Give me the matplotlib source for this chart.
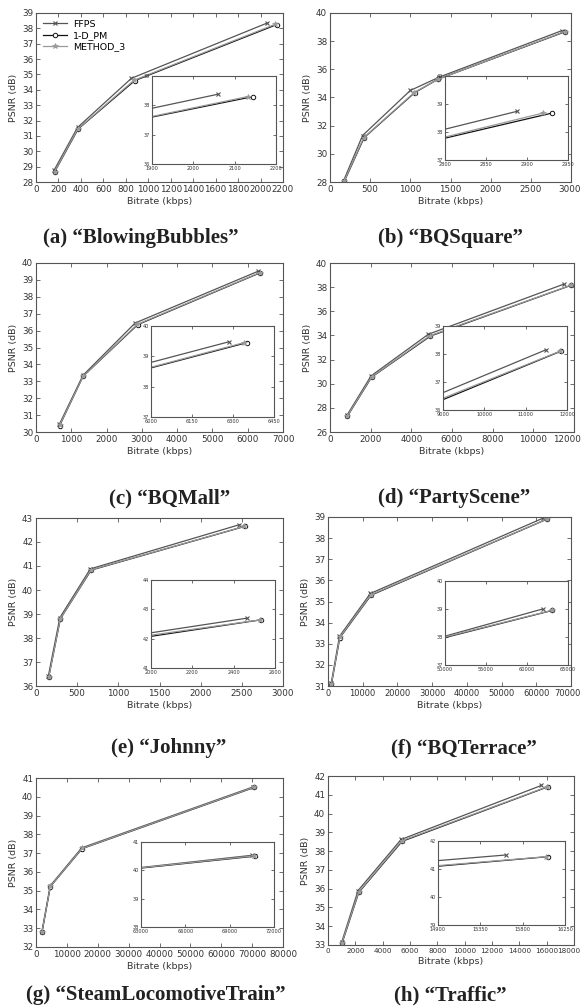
import matplotlib
matplotlib.use("Agg")
import matplotlib.pyplot as plt
from matplotlib.transforms import ScaledTranslation

W, H = 582, 1007

series_names = ["FFPS", "1-D_PM", "METHOD_3"]
captions = ["(a) \u201cBlowingBubbles\u201d", "(b) \u201cBQSquare\u201d", "(c) \u201cBQMall\u201d",
            "(d) \u201cPartyScene\u201d", "(e) \u201cJohnny\u201d", "(f) \u201cBQTerrace\u201d",
            "(g) \u201cSteamLocomotiveTrain\u201d", "(h) \u201cTraffic\u201d"]

# ---------------- (a) BlowingBubbles ----------------
a_ffps_x = [160, 370, 850, 2060];  a_ffps_y = [28.75, 31.55, 34.75, 38.35]
a_pm_x = [165, 375, 880, 2145];    a_pm_y = [28.65, 31.45, 34.6, 38.25]
a_m3_x = [165, 372, 872, 2132];    a_m3_y = [28.68, 31.45, 34.62, 38.27]
a_in_ffps_x = [1900, 2060]; a_in_ffps_y = [37.9, 38.38]
a_in_pm_x = [1900, 2145];   a_in_pm_y = [37.6, 38.3]
a_in_m3_x = [1900, 2132];   a_in_m3_y = [37.62, 38.3]
a_xticks = list(range(0, 2201, 200)); a_yticks = list(range(28, 40))
a_in_xticks = [1900, 2000, 2100, 2200]; a_in_yticks = [36, 37, 38, 39]

# ---------------- (b) BQSquare ----------------
b_ffps_x = [170, 405, 1000, 1360, 2888]; b_ffps_y = [28.1, 31.3, 34.5, 35.45, 38.75]
b_pm_x = [178, 425, 1055, 1345, 2931];   b_pm_y = [28.05, 31.15, 34.35, 35.3, 38.68]
b_m3_x = [175, 420, 1048, 1345, 2920];   b_m3_y = [28.05, 31.15, 34.35, 35.3, 38.68]
b_in_ffps_x = [2800, 2888]; b_in_ffps_y = [38.1, 38.74]
b_in_pm_x = [2800, 2931];   b_in_pm_y = [37.78, 38.68]
b_in_m3_x = [2800, 2920];   b_in_m3_y = [37.82, 38.68]
b_xticks = list(range(0, 3001, 500)); b_yticks = list(range(28, 41, 2))
b_in_xticks = [2800, 2850, 2900, 2950]; b_in_yticks = [37, 38, 39, 40]

# ---------------- (c) BQMall ----------------
c_ffps_x = [660, 1330, 2810, 6280]; c_ffps_y = [30.45, 33.35, 36.45, 39.5]
c_pm_x = [670, 1335, 2880, 6350];   c_pm_y = [30.38, 33.3, 36.35, 39.42]
c_m3_x = [668, 1335, 2870, 6340];   c_m3_y = [30.4, 33.3, 36.37, 39.43]
c_in_ffps_x = [6000, 6285]; c_in_ffps_y = [38.8, 39.48]
c_in_pm_x = [6000, 6350];   c_in_pm_y = [38.62, 39.45]
c_in_m3_x = [6000, 6340];   c_in_m3_y = [38.64, 39.45]
c_xticks = list(range(0, 7001, 1000)); c_yticks = list(range(30, 41))
c_in_xticks = [6000, 6150, 6300, 6450]; c_in_yticks = [37, 38, 39, 40]

# ---------------- (d) PartyScene ----------------
d_ffps_x = [840, 2020, 4840, 11500]; d_ffps_y = [27.4, 30.65, 34.1, 38.25]
d_pm_x = [850, 2050, 4940, 11850];   d_pm_y = [27.3, 30.55, 33.95, 38.15]
d_m3_x = [848, 2045, 4920, 11830];   d_m3_y = [27.32, 30.57, 33.98, 38.15]
d_in_ffps_x = [9000, 11490]; d_in_ffps_y = [36.62, 38.15]
d_in_pm_x = [9000, 11850];   d_in_pm_y = [36.37, 38.1]
d_in_m3_x = [9000, 11830];   d_in_m3_y = [36.42, 38.1]
d_xticks = list(range(0, 12001, 2000)); d_yticks = list(range(26, 41, 2))
d_in_xticks = [9000, 10000, 11000, 12000]; d_in_yticks = [36, 37, 38, 39]

# ---------------- (e) Johnny ----------------
e_ffps_x = [150, 290, 660, 2470]; e_ffps_y = [36.42, 38.85, 40.88, 42.72]
e_pm_x = [155, 296, 670, 2535];   e_pm_y = [36.38, 38.8, 40.83, 42.65]
e_m3_x = [155, 295, 668, 2528];   e_m3_y = [36.38, 38.8, 40.84, 42.65]
e_in_ffps_x = [2000, 2465]; e_in_ffps_y = [42.2, 42.7]
e_in_pm_x = [2000, 2530];   e_in_pm_y = [42.08, 42.64]
e_in_m3_x = [2000, 2528];   e_in_m3_y = [42.12, 42.64]
e_xticks = list(range(0, 3001, 500)); e_yticks = list(range(36, 44))
e_in_xticks = [2000, 2200, 2400, 2600]; e_in_yticks = [41, 42, 43, 44]

# ---------------- (f) BQTerrace ----------------
f_ffps_x = [950, 3300, 12200, 62000]; f_ffps_y = [31.15, 33.35, 35.38, 38.95]
f_pm_x = [980, 3400, 12400, 63100];   f_pm_y = [31.08, 33.28, 35.3, 38.9]
f_m3_x = [970, 3380, 12350, 63000];   f_m3_y = [31.1, 33.3, 35.32, 38.9]
f_in_ffps_x = [50000, 61900]; f_in_ffps_y = [38.03, 39.0]
f_in_pm_x = [50000, 63100];   f_in_pm_y = [37.98, 38.95]
f_in_m3_x = [50000, 63000];   f_in_m3_y = [38.0, 38.95]
f_xticks = list(range(0, 70001, 10000)); f_yticks = list(range(31, 40))
f_in_xticks = [50000, 55000, 60000, 65000]; f_in_yticks = [37, 38, 39, 40]

# ---------------- (g) SteamLocomotiveTrain ----------------
g_ffps_x = [1900, 4600, 14800, 70400]; g_ffps_y = [32.82, 35.26, 37.28, 40.53]
g_pm_x = [1950, 4650, 14950, 70700];   g_pm_y = [32.78, 35.22, 37.24, 40.5]
g_m3_x = [1940, 4640, 14900, 70600];   g_m3_y = [32.8, 35.23, 37.25, 40.51]
g_in_ffps_x = [63000, 70500]; g_in_ffps_y = [40.1, 40.53]
g_in_pm_x = [63000, 70720];   g_in_pm_y = [40.08, 40.5]
g_in_m3_x = [63000, 70650];   g_in_m3_y = [40.09, 40.51]
g_xticks = list(range(0, 80001, 10000)); g_yticks = list(range(32, 42))
g_in_xticks = [63000, 66000, 69000, 72000]; g_in_yticks = [38, 39, 40, 41]

# ---------------- (h) Traffic ----------------
h_ffps_x = [1000, 2200, 5350, 15620]; h_ffps_y = [33.15, 35.9, 38.62, 41.5]
h_pm_x = [1030, 2250, 5420, 16070];   h_pm_y = [33.1, 35.8, 38.52, 41.42]
h_m3_x = [1025, 2240, 5400, 16050];   h_m3_y = [33.12, 35.82, 38.55, 41.43]
h_in_ffps_x = [14900, 15620]; h_in_ffps_y = [41.3, 41.5]
h_in_pm_x = [14900, 16070];   h_in_pm_y = [41.1, 41.44]
h_in_m3_x = [14900, 16050];   h_in_m3_y = [41.12, 41.44]
h_xticks = list(range(0, 18001, 2000)); h_yticks = list(range(33, 43))
h_in_xticks = [14900, 15350, 15800, 16250]; h_in_yticks = [39, 40, 41, 42]

panels = [
    (a_ffps_x, a_ffps_y, a_pm_x, a_pm_y, a_m3_x, a_m3_y, a_in_ffps_x, a_in_ffps_y, a_in_pm_x, a_in_pm_y, a_in_m3_x, a_in_m3_y, a_xticks, a_yticks, a_in_xticks, a_in_yticks),
    (b_ffps_x, b_ffps_y, b_pm_x, b_pm_y, b_m3_x, b_m3_y, b_in_ffps_x, b_in_ffps_y, b_in_pm_x, b_in_pm_y, b_in_m3_x, b_in_m3_y, b_xticks, b_yticks, b_in_xticks, b_in_yticks),
    (c_ffps_x, c_ffps_y, c_pm_x, c_pm_y, c_m3_x, c_m3_y, c_in_ffps_x, c_in_ffps_y, c_in_pm_x, c_in_pm_y, c_in_m3_x, c_in_m3_y, c_xticks, c_yticks, c_in_xticks, c_in_yticks),
    (d_ffps_x, d_ffps_y, d_pm_x, d_pm_y, d_m3_x, d_m3_y, d_in_ffps_x, d_in_ffps_y, d_in_pm_x, d_in_pm_y, d_in_m3_x, d_in_m3_y, d_xticks, d_yticks, d_in_xticks, d_in_yticks),
    (e_ffps_x, e_ffps_y, e_pm_x, e_pm_y, e_m3_x, e_m3_y, e_in_ffps_x, e_in_ffps_y, e_in_pm_x, e_in_pm_y, e_in_m3_x, e_in_m3_y, e_xticks, e_yticks, e_in_xticks, e_in_yticks),
    (f_ffps_x, f_ffps_y, f_pm_x, f_pm_y, f_m3_x, f_m3_y, f_in_ffps_x, f_in_ffps_y, f_in_pm_x, f_in_pm_y, f_in_m3_x, f_in_m3_y, f_xticks, f_yticks, f_in_xticks, f_in_yticks),
    (g_ffps_x, g_ffps_y, g_pm_x, g_pm_y, g_m3_x, g_m3_y, g_in_ffps_x, g_in_ffps_y, g_in_pm_x, g_in_pm_y, g_in_m3_x, g_in_m3_y, g_xticks, g_yticks, g_in_xticks, g_in_yticks),
    (h_ffps_x, h_ffps_y, h_pm_x, h_pm_y, h_m3_x, h_m3_y, h_in_ffps_x, h_in_ffps_y, h_in_pm_x, h_in_pm_y, h_in_m3_x, h_in_m3_y, h_xticks, h_yticks, h_in_xticks, h_in_yticks),
]

# ---------------- layout (pixels: left, right, top, bottom) ----------------
main_boxes = [(36, 283, 13, 182), (330, 571, 13, 182),
              (36, 283, 263, 432), (330, 574, 263, 432),
              (36, 283, 518, 686), (328, 571, 517, 686),
              (36, 283, 778, 947), (328, 574, 776, 945)]
inset_boxes = [(152, 276, 76, 164), (445, 568, 76, 160),
               (151, 274, 326, 417), (443, 567, 326, 410),
               (151, 275, 580, 668), (445, 568, 581, 665),
               (141, 274, 842, 927), (438, 565, 841, 925)]
caption_pos = [(141, 238), (451, 238), (170, 498), (454, 498),
               (169, 748), (464, 748), (156, 995), (450, 995)]
xtick_fs = [6.3, 6.3, 6.3, 6.3, 6.3, 6.0, 6.3, 5.2]

styles = [dict(color="#555555", marker="x", ms=3.2, mew=0.8),
          dict(color="#111111", marker="o", ms=3.2, mew=0.7, mfc="white"),
          dict(color="#9a9a9a", marker="*", ms=3.8, mew=0.5)]

def rect(b):
    l, r, t, bt = b
    return [l / W, 1 - bt / H, (r - l) / W, (bt - t) / H]

def style_axes(ax, fs, tl):
    for s in ax.spines.values():
        s.set_color("#555555")
        s.set_linewidth(0.8)
    ax.tick_params(direction="in", top=True, right=True, length=tl, width=0.6,
                   color="#555555", labelsize=fs, labelcolor="#333333", pad=2)

fig = plt.figure(figsize=(W / 100, H / 100), dpi=100)
fig.patch.set_facecolor("white")

main_axes = []
for i, p in enumerate(panels):
    (fx, fy, px, py, mx, my, ifx, ify, ipx, ipy, imx, imy, xt, yt, ixt, iyt) = p
    ax = fig.add_axes(rect(main_boxes[i]))
    data = [(fx, fy), (px, py), (mx, my)]
    for (xs, ys), st, nm in zip(data, styles, series_names):
        ax.plot(xs, ys, lw=0.9, label=nm, **st)
    ax.set_xlim(xt[0], xt[-1])
    ax.set_ylim(yt[0], yt[-1])
    ax.set_xticks(xt)
    ax.set_yticks(yt)
    style_axes(ax, 6.3, 3)
    ax.tick_params(axis="x", labelsize=xtick_fs[i])
    ax.set_xlabel("Bitrate (kbps)", fontsize=6.8, color="#333333", labelpad=2)
    ax.set_ylabel("PSNR (dB)", fontsize=6.8, color="#333333", labelpad=3)
    if i == 0:
        ax.legend(loc="upper left", frameon=False, fontsize=6.8, handlelength=2.6,
                  borderaxespad=0.3, labelspacing=0.25, handletextpad=0.6)
    main_axes.append(ax)
    # inset
    ia = fig.add_axes(rect(inset_boxes[i]))
    idata = [(ifx, ify), (ipx, ipy), (imx, imy)]
    for (xs, ys), st in zip(idata, styles):
        ia.plot(xs, ys, lw=0.9, markevery=[len(xs) - 1], **st)
    ia.set_xlim(ixt[0], ixt[-1])
    ia.set_ylim(iyt[0], iyt[-1])
    ia.set_xticks(ixt)
    ia.set_yticks(iyt)
    style_axes(ia, 3.6, 2)
    ia.tick_params(pad=1.5)
    cx, cy = caption_pos[i]
    fig.text(cx / W, 1 - cy / H, captions[i], ha="center", va="center",
             fontsize=15, fontweight="bold", family="Liberation Serif", color="#222222")

# nudge last x tick labels that would run past the right figure edge
fig.canvas.draw()
renderer = fig.canvas.get_renderer()
for ax in main_axes:
    lab = ax.get_xticklabels()[-1]
    bb = lab.get_window_extent(renderer)
    excess = bb.x1 - (W - 1.5)
    if excess > 0:
        lab.set_transform(lab.get_transform() +
                          ScaledTranslation(-excess / 100.0, 0, fig.dpi_scale_trans))

fig.savefig("out.png", dpi=100, facecolor="white")
